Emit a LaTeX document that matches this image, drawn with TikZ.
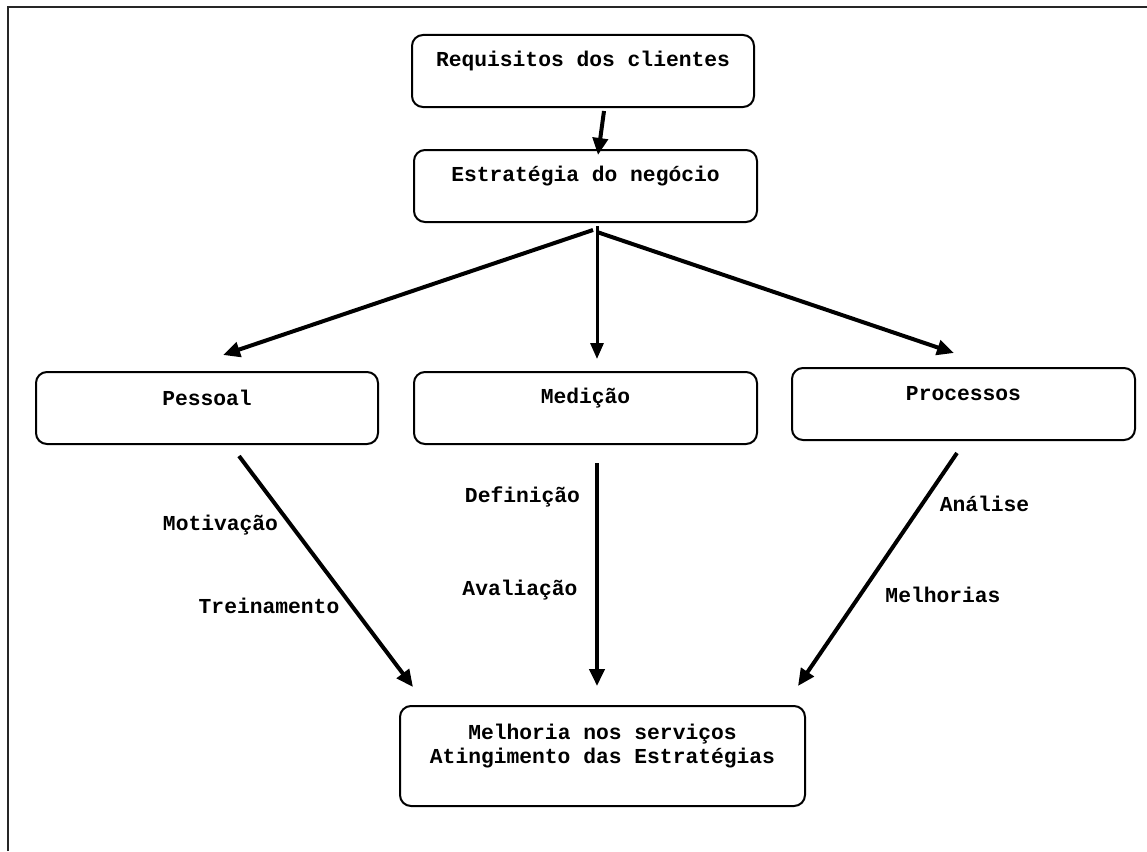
\documentclass[tikz,border=0pt]{standalone}
\usepackage{fontspec}
\setmonofont{Liberation Mono}
\usetikzlibrary{arrows.meta,calc}

\tikzset{
  box/.style={draw, line width=2pt, rounded corners=11pt, inner sep=0pt},
  boxtext/.style={font=\ttfamily\bfseries\fontsize{21.3}{24}\selectfont, align=center, inner sep=0pt},
  note/.style={font=\ttfamily\bfseries\fontsize{21.3}{24}\selectfont, inner sep=0pt},
  arr/.style={line width=4pt, -{Triangle[length=17pt,width=15pt]}},
  thinarr/.style={line width=3pt, -{Triangle[length=16pt,width=13pt]}},
  frameline/.style={line width=2.6pt, black!85}
}

\begin{document}
\begin{tikzpicture}[x=1pt,y=-1pt]
  \useasboundingbox (0,0) rectangle (1147,851);

  % page frame (top and left rules)
  \draw[frameline] (8,851) -- (8,7) -- (1147,7);

  % boxes
  \node[box, minimum width=342pt, minimum height=72pt,
        label={[boxtext, yshift=10pt]center:Requisitos dos clientes}] (req) at (583,71) {};
  \node[box, minimum width=343pt, minimum height=72pt,
        label={[boxtext, yshift=10pt]center:Estratégia do negócio}] (est) at (585.5,186) {};
  \node[box, minimum width=342pt, minimum height=72pt,
        label={[boxtext, yshift=10pt]center:Pessoal}] (pes) at (207,408) {};
  \node[box, minimum width=343pt, minimum height=72pt,
        label={[boxtext, yshift=10pt]center:Medição}] (med) at (585.5,408) {};
  \node[box, minimum width=343pt, minimum height=72pt,
        label={[boxtext, yshift=10pt]center:Processos}] (proc) at (963.5,404) {};
  \node[box, minimum width=405pt, minimum height=100pt,
        label={[boxtext, yshift=10pt]center:Melhoria nos serviços\\Atingimento das Estratégias}] (mel) at (602.5,756) {};

  % connectors
  \draw[arr] ($(req.south)+(21,3)$) -- ($(est.north)+(12.5,6)$);
  \draw[arr] ($(est.south)+(7.5,7)$) -- ($(pes.north)+(16,-16)$);
  \draw[thinarr] ($(est.south)+(11.5,3)$) -- ($(med.north)+(11.5,-12)$);
  \draw[arr] ($(est.south)+(11.5,9)$) -- ($(proc.north)+(-9.5,-14)$);
  \draw[arr] ($(pes.south)+(32,11)$) -- ($(mel.north)+(-189.5,-18)$);
  \draw[arr] ($(med.south)+(11.5,18)$) -- ($(mel.north)+(-5.5,-19)$);
  \draw[arr] ($(proc.south)+(-6.5,12)$) -- ($(mel.north)+(195.5,-19)$);

  % connector notes
  \node[note] (motiv) at (220.5,525) {Motivação};
  \node[note] (trein) at (269,606) {Treinamento};
  \node[note] (defin) at (522.5,497) {Definição};
  \node[note] (avali) at (520,590) {Avaliação};
  \node[note] (anali) at (984.5,504) {Análise};
  \node[note] (melho) at (943,595) {Melhorias};
\end{tikzpicture}
\end{document}
